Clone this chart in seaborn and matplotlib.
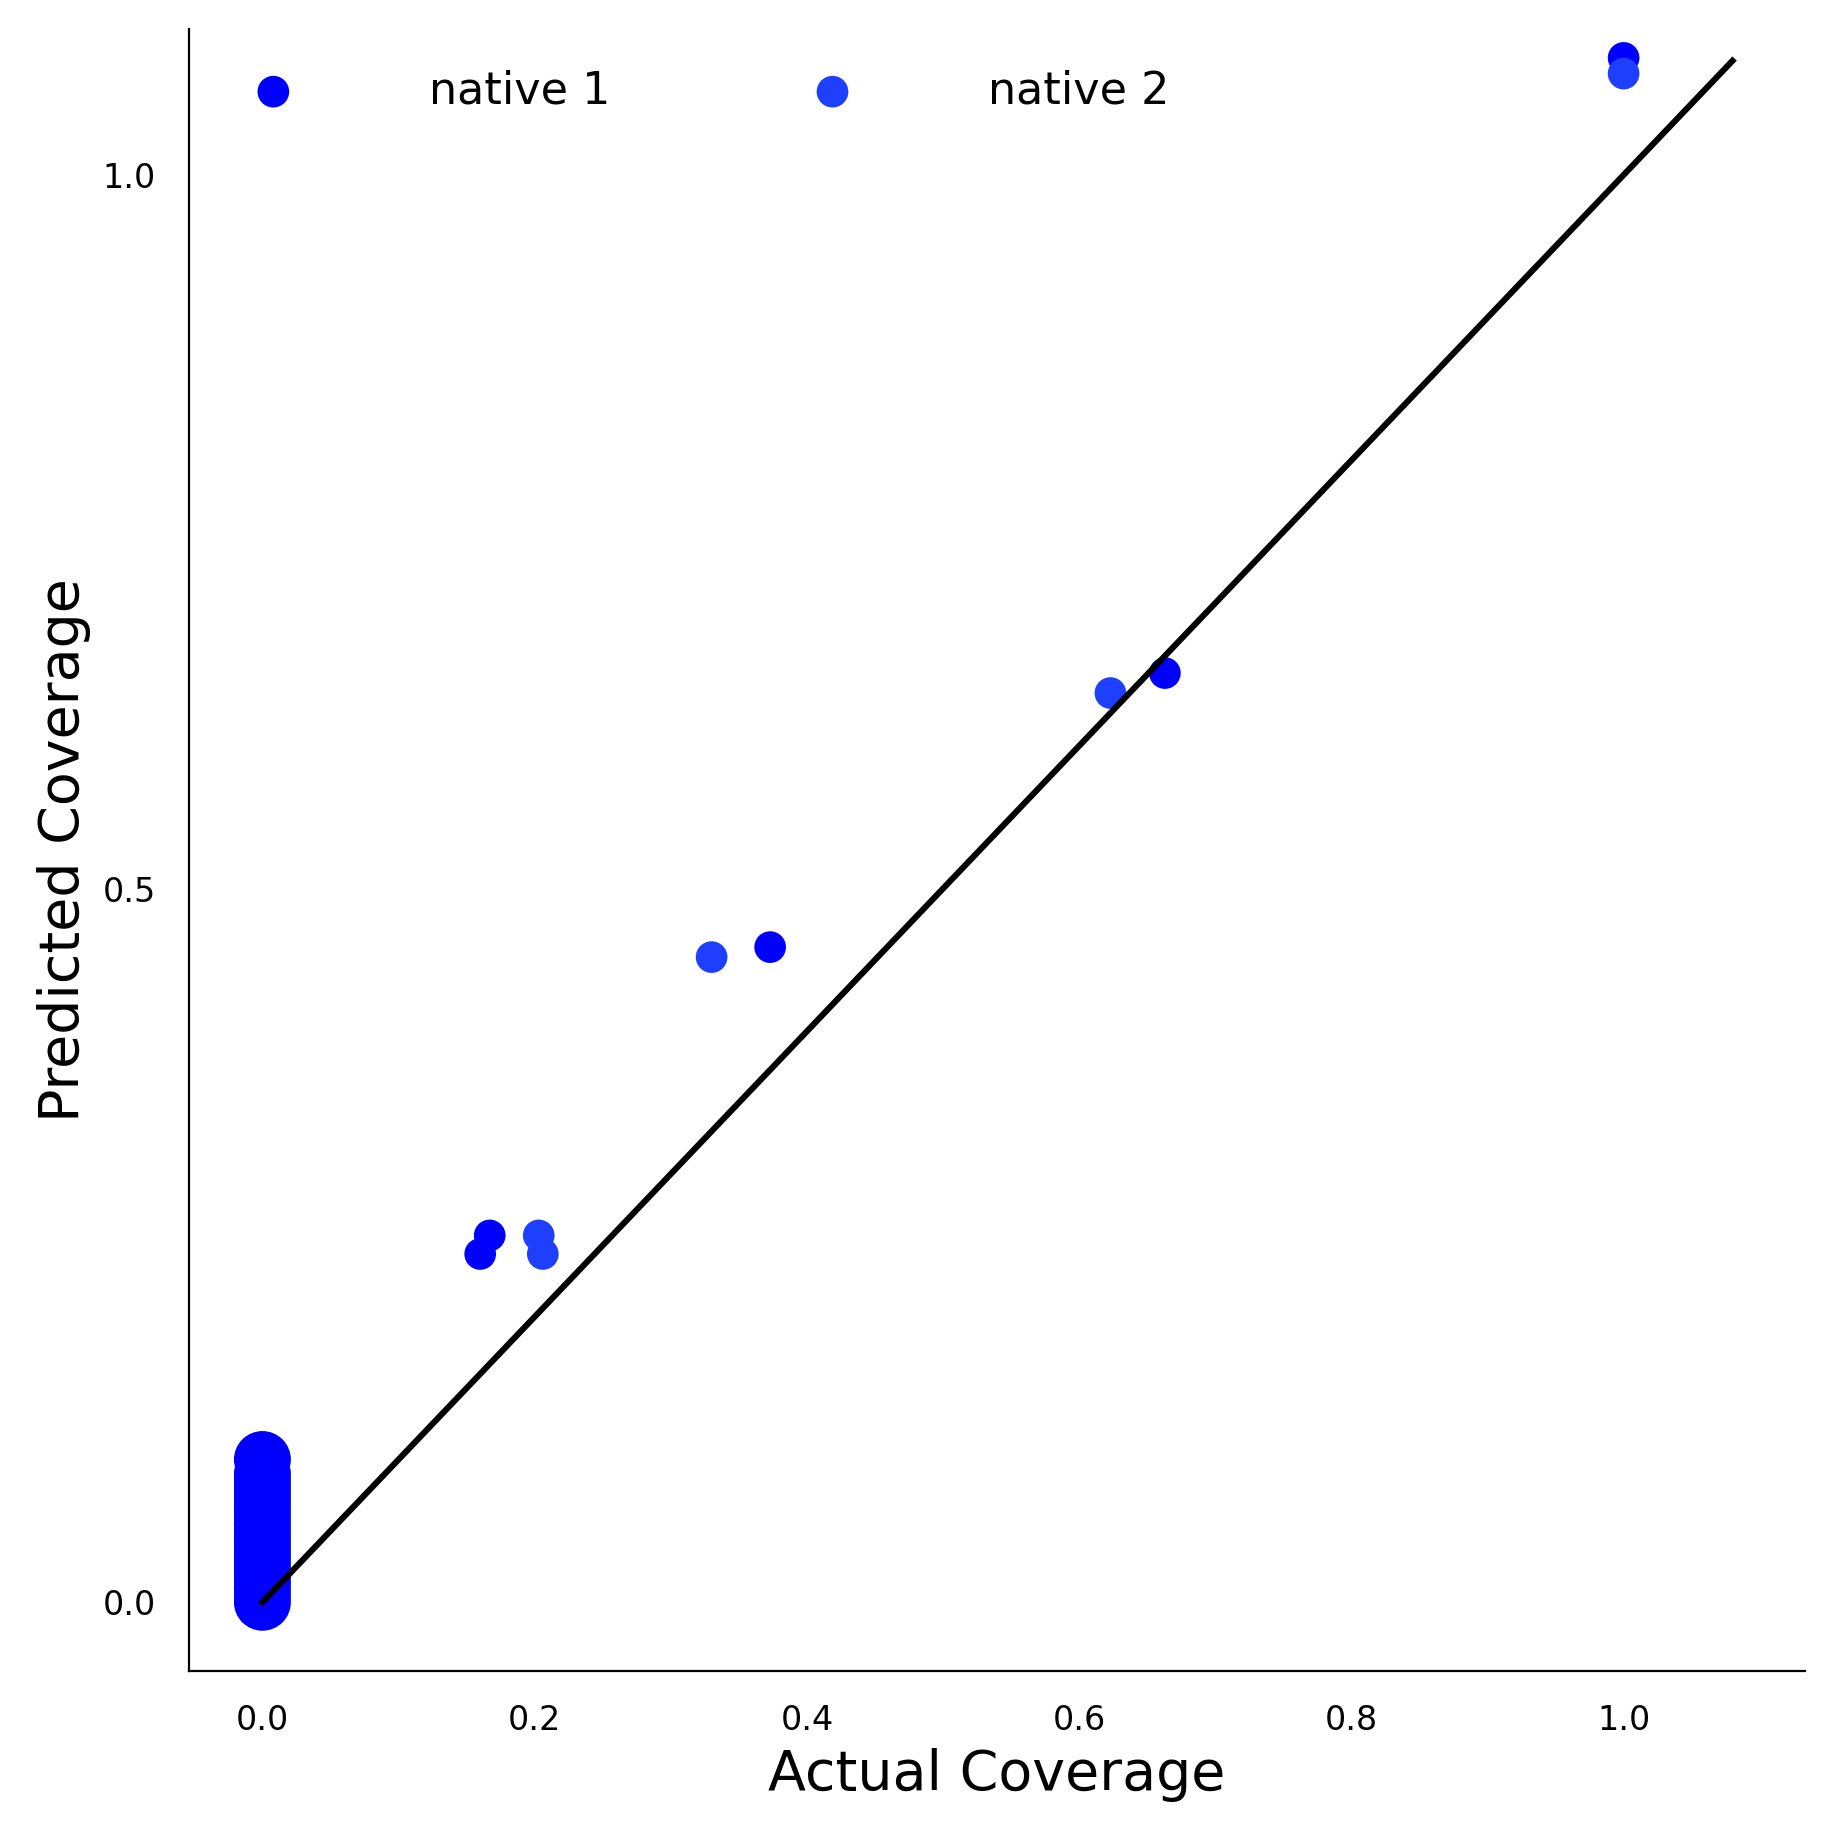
import pandas as pd
import seaborn as sns
import matplotlib.pyplot as plt

# points away from zero
actual_1 = [1.0, 0.663, 0.373, 0.167, 0.160]
pred_1 = [1.082, 0.651, 0.459, 0.257, 0.244]
actual_2 = [1.0, 0.623, 0.330, 0.203, 0.206]
pred_2 = [1.071, 0.637, 0.452, 0.257, 0.244]

# cluster at zero actual coverage
zero_pred = [0.0, 0.005, 0.01, 0.015, 0.02, 0.025, 0.03, 0.035, 0.04, 0.045,
             0.05, 0.055, 0.06, 0.065, 0.07, 0.075, 0.08, 0.085, 0.09, 0.1]

diag = [0.0, 1.08]

c1 = '#0000ff'
c2 = '#1f3fff'

df1 = pd.DataFrame({'actual': actual_1, 'pred': pred_1})
df2 = pd.DataFrame({'actual': actual_2, 'pred': pred_2})
dfz = pd.DataFrame({'actual': [0.0] * len(zero_pred), 'pred': zero_pred})

fig = plt.figure(figsize=(9.17, 9.17), dpi=200)
ax_ = fig.add_axes([0.103, 0.089, 0.881, 0.895])

sns.lineplot(x=diag, y=diag, color='black', lw=2.2, ax=ax_)
sns.scatterplot(data=dfz, x='actual', y='pred', color=c1, s=420,
                edgecolor='none', ax=ax_)
sns.scatterplot(data=df1, x='actual', y='pred', color=c1, s=130,
                edgecolor='none', ax=ax_, label='native 1')
sns.scatterplot(data=df2, x='actual', y='pred', color=c2, s=130,
                edgecolor='none', ax=ax_, label='native 2')

ax_.set_xlim(-0.054, 1.133)
ax_.set_ylim(-0.048, 1.102)
ax_.set_xticks([0.0, 0.2, 0.4, 0.6, 0.8, 1.0])
ax_.set_yticks([0.0, 0.5, 1.0])
ax_.tick_params(length=0, labelsize=12, pad=12)
ax_.set_xlabel('Actual Coverage', fontsize=20)
ax_.set_ylabel('Predicted Coverage', fontsize=20)

ax_.spines['top'].set_visible(False)
ax_.spines['right'].set_visible(False)

ax_.legend(loc='upper left', ncol=2, frameon=False, fontsize=16,
           handletextpad=2.5, columnspacing=4, markerscale=1.0)

plt.savefig('out.png', dpi=200)
